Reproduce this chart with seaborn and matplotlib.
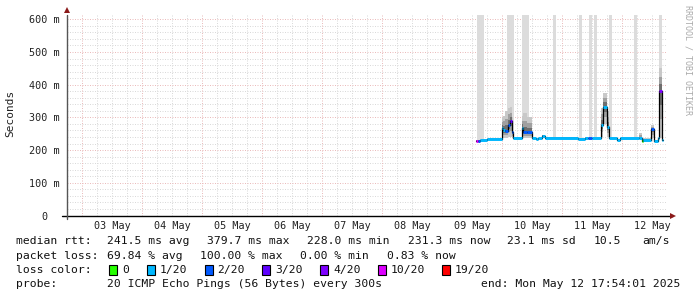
import numpy as np
import pandas as pd
import matplotlib
matplotlib.use("Agg")
import matplotlib.pyplot as plt
from matplotlib.patches import Rectangle
import seaborn as sns

# ---------------- data (time = day of May 2025, values in ms) ----------------
seg_start = [9.563, 9.596, 9.629, 9.746, 9.991, 10.013, 10.046, 10.088, 10.121, 10.158,
             10.184, 10.324, 10.351, 10.413, 10.491, 10.563, 10.596, 10.658, 10.713, 11.263,
             11.379, 11.429, 11.496, 11.646, 11.684, 11.741, 11.779, 11.913, 11.963, 12.279,
             12.324, 12.351, 12.479, 12.529, 12.591, 12.613, 12.658]
seg_last_end = 12.684
median_ms = [229, 229, 231, 233, 267, 261, 258, 277, 289, 256,
             236, 267, 254, 255, 236, 233, 236, 244, 238, 235,
             237, 236, 236, 277, 333, 272, 236, 231, 236, 236,
             229, 231, 264, 229, 236, 381, 231]
loss_idx = [5, 2, 1, 1, 1, 1, 2, 2, 3, 2,
            1, 1, 2, 2, 1, 1, 1, 1, 1, 1,
            1, 2, 1, 1, 1, 1, 1, 1, 1, 1,
            0, 1, 2, 1, 1, 4, 1]
smoke_lo = [229, 229, 230, 232, 236, 236, 236, 240, 240, 236,
            234, 236, 236, 236, 234, 231, 234, 240, 236, 233,
            236, 234, 234, 240, 280, 240, 234, 229, 234, 234,
            228, 229, 236, 228, 234, 236, 229]
smoke_hi = [231, 231, 233, 236, 300, 305, 320, 330, 332, 300,
            238, 305, 313, 300, 238, 236, 238, 246, 241, 237,
            240, 238, 238, 330, 375, 320, 238, 234, 238, 252,
            231, 236, 277, 231, 238, 450, 233]

bar_start = [9.575, 10.084, 10.334, 10.841, 11.279, 11.446, 11.529, 11.779, 12.196, 12.613]
bar_end = [9.696, 10.201, 10.451, 10.896, 11.324, 11.491, 11.574, 11.829, 12.241, 12.658]
bar_bottom = [229, 240, 250, 239, 235, 236, 236, 236, 236, 381]

loss_labels = ["0", "1/20", "2/20", "3/20", "4/20", "10/20", "19/20"]
loss_colors = ["#26ff00", "#00b8ff", "#0059ff", "#5e00ff", "#7e00ff", "#dd00ff", "#ff0000"]

day_label_pos = [3.5, 4.5, 5.5, 6.5, 7.5, 8.5, 9.5, 10.5, 11.5, 12.5]
day_labels = ["03 May", "04 May", "05 May", "06 May", "07 May",
              "08 May", "09 May", "10 May", "11 May", "12 May"]
y_ticks = [0, 100, 200, 300, 400, 500, 600]
y_labels = ["0  ", "100 m", "200 m", "300 m", "400 m", "500 m", "600 m"]

x_start, x_end = 2.7458, 12.7458
y_top = 613

# ---------------- figure ----------------
sns.set_style("white")
plt.rcParams["font.family"] = ["DejaVu Sans Mono"]

W, H = 697, 297
fig = plt.figure(figsize=(W / 100, H / 100), dpi=100)
fig.patch.set_facecolor("white")
ax = fig.add_axes([67 / W, (H - 215.5) / H, 600 / W, 200.5 / H])
ax.set_xlim(x_start, x_end)
ax.set_ylim(0, y_top)
for s in ax.spines.values():
    s.set_visible(False)

# grid (dotted, light)
minor_col, major_col = "#dadada", "#ebbcbc"
dots = (0, (1, 1.5))
for v in np.arange(3.0, 12.8, 0.25):
    if abs(v - round(v)) > 1e-6:
        ax.axvline(v, color=minor_col, lw=0.72, ls=dots, zorder=0)
for v in range(3, 13):
    ax.axvline(v, color=major_col, lw=0.72, ls=dots, zorder=0.1)
for v in range(20, 613, 20):
    if v % 100:
        ax.axhline(v, color=minor_col, lw=0.72, ls=dots, zorder=0)
for v in range(100, 613, 100):
    ax.axhline(v, color=major_col, lw=0.72, ls=dots, zorder=0.1)

df = pd.DataFrame({"t0": seg_start,
                   "t1": seg_start[1:] + [seg_last_end],
                   "med": median_ms, "loss": loss_idx,
                   "lo": smoke_lo, "hi": smoke_hi})

# light gray bars (upper smoke)
bars = pd.DataFrame({"s": bar_start, "e": bar_end, "b": bar_bottom})
ax.bar(bars["s"], y_top - bars["b"], bottom=bars["b"], width=bars["e"] - bars["s"],
       align="edge", color="#dcdcdc", lw=0, zorder=1)

# smoke
xs = list(df["t0"]) + [seg_last_end]
lo = list(df["lo"]) + [df["lo"].iloc[-1]]
hi = list(df["hi"]) + [df["hi"].iloc[-1]]
med = list(df["med"]) + [df["med"].iloc[-1]]
med_a, lo_a, hi_a = np.array(med, float), np.array(lo, float), np.array(hi, float)
ax.fill_between(xs, lo_a, hi_a, step="post", color="#c8c8c8", lw=0, zorder=2)
ax.fill_between(xs, med_a - (med_a - lo_a) * 0.6, med_a + (hi_a - med_a) * 0.6,
                step="post", color="#a0a0a0", lw=0, zorder=2.3)
ax.fill_between(xs, med_a - (med_a - lo_a) * 0.3, med_a + (hi_a - med_a) * 0.3,
                step="post", color="#6e6e6e", lw=0, zorder=2.6)

# black step line
step_df = pd.DataFrame({"t": xs, "v": med})
sns.lineplot(data=step_df, x="t", y="v", drawstyle="steps-post", color="black",
             lw=0.9, ax=ax, estimator=None, sort=False, zorder=3)

# coloured median segments
ax.hlines(df["med"], df["t0"], df["t1"], colors=[loss_colors[i] for i in df["loss"]],
          lw=2.1, zorder=4)

# ticks
ax.set_xticks(day_label_pos, day_labels)
ax.set_yticks(y_ticks, y_labels)
ax.tick_params(axis="x", length=0, pad=4, labelsize=7.3, colors="#222222")
ax.tick_params(axis="y", length=2, width=0.7, pad=3, labelsize=7.3, colors="#888888",
               labelcolor="#222222", direction="out")
ax.set_xlabel("")
ax.set_ylabel("")

# axes lines and arrows
ax.plot([-0.008, 1.008], [0, 0], transform=ax.transAxes, color="black", lw=1.0,
        clip_on=False, zorder=6)
ax.plot([0, 0], [-0.015, 1.0], transform=ax.transAxes, color="#555555", lw=1.0,
        clip_on=False, zorder=6)
ax.plot([1.010], [0], transform=ax.transAxes, marker=">", ms=4, color="#8b1a1a",
        clip_on=False, zorder=7, mew=0)
ax.plot([0], [1.025], transform=ax.transAxes, marker="^", ms=4, color="#8b1a1a",
        clip_on=False, zorder=7, mew=0)

# y-axis title and watermark
fig.text(10 / W, 1 - 113 / H, "Seconds", rotation=90, ha="center", va="center",
         fontsize=8, color="#222222")
fig.text(688 / W, 1 - 60 / H, "RRDTOOL / TOBI OETIKER", rotation=270, ha="center",
         va="center", fontsize=6, color="#aaaaaa")

# legend text
def txt(x, y, s, ha="left"):
    fig.text(x / W, 1 - y / H, s, ha=ha, va="center", fontsize=8.2, color="#111111")

L1, L2, L3, L4 = 241, 256, 270, 284
txt(16, L1, "median rtt:")
txt(106.7, L1, "241.5 ms avg")
txt(206.7, L1, "379.7 ms max")
txt(306.7, L1, "228.0 ms min")
txt(407.6, L1, "231.3 ms now")
txt(506.7, L1, "23.1 ms sd")
txt(593.3, L1, "10.5")
txt(642.2, L1, "am/s")

txt(16, L2, "packet loss:")
txt(106.7, L2, "69.84 % avg")
txt(200, L2, "100.00 % max")
txt(300, L2, "0.00 % min")
txt(386.7, L2, "0.83 % now")

txt(16, L3, "loss color:")
box_x = [109, 147, 204.5, 262, 320, 378, 442]
for bx, lab, col in zip(box_x, loss_labels, loss_colors):
    fig.patches.append(Rectangle((bx / W, 1 - (L3 + 5) / H), 8 / W, 10 / H,
                                 transform=fig.transFigure, facecolor=col,
                                 edgecolor="black", lw=0.8))
    txt(bx + 13, L3, lab)

txt(16, L4, "probe:")
txt(106.7, L4, "20 ICMP Echo Pings (56 Bytes) every 300s")
txt(680, L4, "end: Mon May 12 17:54:01 2025", ha="right")

fig.savefig("out.png", dpi=100, facecolor="white")
